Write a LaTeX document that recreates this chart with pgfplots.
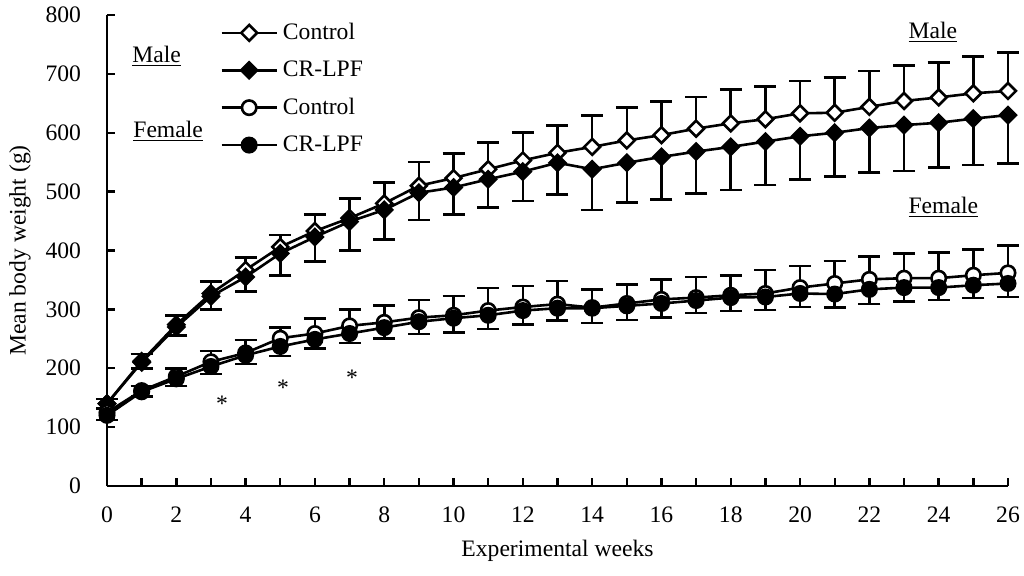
\documentclass[border=0pt]{standalone}
\usepackage{fontspec}
\setmainfont{Liberation Serif}
\usepackage{pgfplots}
\pgfplotsset{compat=1.18}
\usepackage{pgfplotstable}

% week, mean body weight (g), one-sided SD
\pgfplotstableread{
w m e
0 140 8
1 212 12
2 274 16
3 327 20
4 367 21
5 406 20
6 433 28
7 455 33
8 480 35
9 510 40
10 523 42
11 538 45
12 553 47
13 566 46
14 576 53
15 587 56
16 596 57
17 607 54
18 616 57
19 623 56
20 633 55
21 634 60
22 644 61
23 654 60
24 660 59
25 667 63
26 671 65
}\malectrl

\pgfplotstableread{
w m e
0 140 8
1 210 10
2 270 14
3 322 22
4 355 25
5 395 37
6 423 42
7 449 49
8 469 50
9 498 46
10 507 46
11 521 48
12 534 50
13 549 54
14 538 69
15 549 67
16 559 72
17 568 71
18 576 73
19 585 74
20 594 73
21 600 74
22 608 76
23 613 78
24 617 76
25 624 79
26 630 82
}\malecr

\pgfplotstableread{
w m e
0 125 6
1 162 8
2 186 14
3 211 18
4 226 22
5 251 18
6 259 26
7 272 28
8 278 29
9 286 30
10 290 33
11 298 38
12 304 36
13 309 39
14 303 31
15 310 32
16 317 34
17 320 35
18 324 34
19 327 40
20 337 37
21 344 38
22 351 39
23 353 42
24 353 44
25 358 44
26 362 47
}\femctrl

\pgfplotstableread{
w m e
0 120 8
1 160 8
2 182 12
3 203 13
4 222 15
5 237 16
6 249 15
7 259 16
8 269 18
9 279 21
10 285 24
11 290 23
12 298 24
13 302 21
14 302 25
15 306 24
16 310 24
17 315 21
18 320 23
19 321 22
20 327 23
21 326 23
22 334 25
23 337 24
24 337 21
25 341 22
26 344 23
}\femcr

\newcommand\lblfont{\fontsize{11.8}{14}\selectfont}

\begin{document}
\begin{tikzpicture}
\begin{axis}[
  scale only axis, width=450.5pt, height=235.5pt,
  at={(0,0)}, anchor=south west,
  xmin=0, xmax=26, ymin=0, ymax=800,
  clip=false,
  axis x line*=bottom, axis y line*=left,
  axis line style={line width=1.2pt},
  xtick={0,2,...,26}, minor xtick={1,3,...,25},
  ytick={0,100,...,800},
  tick align=inside, major tick length=4pt, minor tick length=4pt,
  every tick/.style={black, line width=1.2pt},
  every minor tick/.style={black, line width=1.2pt},
  ticklabel style={font=\lblfont},
  /pgf/number format/assume math mode=true,
  xticklabel shift=7pt, yticklabel shift=9.5pt,
  xlabel={Experimental weeks}, ylabel={Mean body weight (g)},
  label style={font=\lblfont},
  xlabel style={at={(axis description cs:0.5,-0.138)}, anchor=center},
  ylabel style={at={(axis description cs:-0.0966,0.5)}, anchor=center},
  legend cell align=left,
  legend image code/.code={\draw[mark repeat=2, mark phase=2, #1] plot coordinates {(0pt,0pt) (13.75pt,0pt) (27.5pt,0pt)};},
  legend style={at={(axis description cs:0.1254,0.985)}, anchor=north west,
    draw=none, fill=none, inner sep=0pt, font=\lblfont,
    row sep=8.3pt, nodes={inner sep=0pt, text height=8.4pt, text depth=2pt},
    /tikz/every odd column/.append style={column sep=2.5pt}},
  every axis plot/.append style={black, line width=1.3pt},
]

\addplot[mark=square*, mark size=2.8pt, mark options={fill=white, rotate=45, solid},
  error bars/.cd, y dir=plus, y explicit,
  error bar style={line width=1.3pt},
  error mark options={rotate=90, mark size=5.5pt, line width=1.3pt}]
  table[x=w, y=m, y error=e] {\malectrl};
\addlegendentry{Control}

\addplot[mark=square*, mark size=2.8pt, mark options={fill=black, rotate=45, solid},
  error bars/.cd, y dir=minus, y explicit,
  error bar style={line width=1.3pt},
  error mark options={rotate=90, mark size=5.5pt, line width=1.3pt}]
  table[x=w, y=m, y error=e] {\malecr};
\addlegendentry{CR-LPF}

\addplot[mark=*, mark size=3.6pt, mark options={fill=white, solid},
  error bars/.cd, y dir=plus, y explicit,
  error bar style={line width=1.3pt},
  error mark options={rotate=90, mark size=5.5pt, line width=1.3pt}]
  table[x=w, y=m, y error=e] {\femctrl};
\addlegendentry{Control}

\addplot[mark=*, mark size=3.6pt, mark options={fill=black, solid},
  error bars/.cd, y dir=minus, y explicit,
  error bar style={line width=1.3pt},
  error mark options={rotate=90, mark size=5.5pt, line width=1.3pt}]
  table[x=w, y=m, y error=e] {\femcr};
\addlegendentry{CR-LPF}

% group labels
\node[anchor=base west, inner sep=0pt, font=\lblfont] at (axis cs:0.72,720) {\underline{Male}};
\node[anchor=base west, inner sep=0pt, font=\lblfont] at (axis cs:0.75,592.5) {\underline{Female}};
\node[anchor=base west, inner sep=0pt, font=\lblfont] at (axis cs:23.12,760.6) {\underline{Male}};
\node[anchor=base west, inner sep=0pt, font=\lblfont] at (axis cs:23.12,463.5) {\underline{Female}};

% significance marks
\node[inner sep=0pt, font=\lblfont, yshift=-1pt] at (axis cs:3.32,142.6) {*};
\node[inner sep=0pt, font=\lblfont, yshift=-1pt] at (axis cs:5.08,170) {*};
\node[inner sep=0pt, font=\lblfont, yshift=-1pt] at (axis cs:7.07,187) {*};
\end{axis}
\pgfresetboundingbox
\path[use as bounding box] (-53.5pt,-44.5pt) rectangle (458.5pt,243pt);
\end{tikzpicture}
\end{document}
